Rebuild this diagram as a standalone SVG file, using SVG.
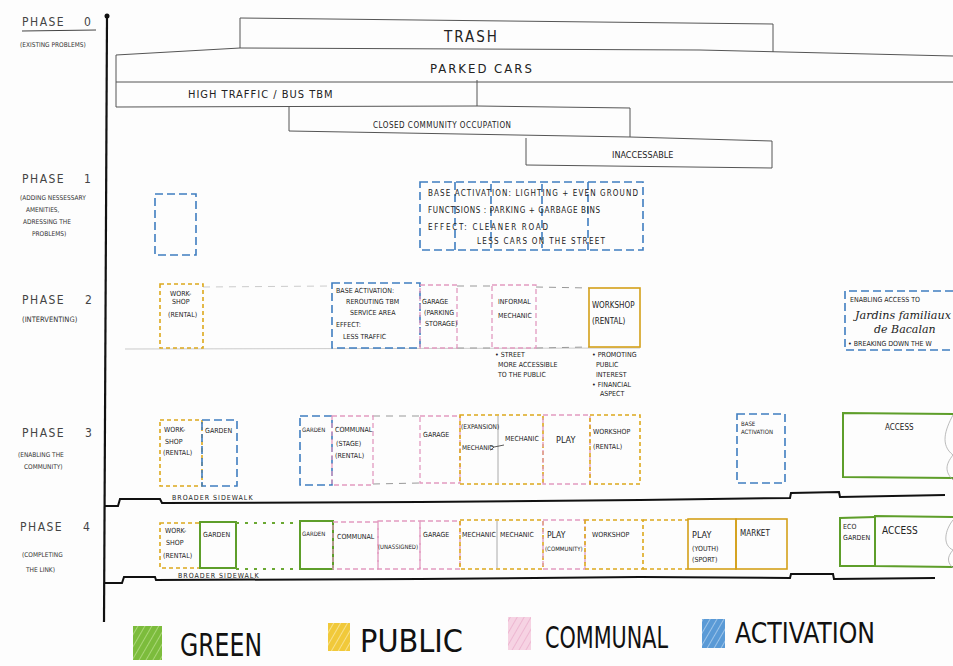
<svg xmlns="http://www.w3.org/2000/svg" width="953" height="666" viewBox="0 0 953 666">
<defs>
<style>
.t{font-family:"DejaVu Sans Condensed","DejaVu Sans",sans-serif;fill:#222;}
.ph{font-size:12px;letter-spacing:1.5px;fill:#444;}
.sub{font-size:6.5px;fill:#333;}
.s{font-size:7px;}
.m{font-size:8px;}
.bar{fill:none;stroke:#555;stroke-width:1;}
.blue{fill:none;stroke:#3f7dc0;stroke-width:1.6;stroke-dasharray:8 4;}
.yel{fill:none;stroke:#dca81c;stroke-width:1.6;stroke-dasharray:4 3;}
.yels{fill:none;stroke:#d4a01a;stroke-width:1.6;}
.pink{fill:none;stroke:#e29ac0;stroke-width:1.3;stroke-dasharray:5 3;}
.gray{fill:none;stroke:#aaa;stroke-width:1;}
.grayd{fill:none;stroke:#999;stroke-width:1;stroke-dasharray:7 6;}
.grn{fill:none;stroke:#5e9e2a;stroke-width:2;}
.grnd{fill:none;stroke:#6aa832;stroke-width:2;stroke-dasharray:3 6;}
.blk{fill:none;stroke:#111;stroke-width:2;}
.leg{font-family:"DejaVu Sans Condensed","DejaVu Sans",sans-serif;fill:#111;font-size:34px;}
</style>
<pattern id="hG" width="6" height="6" patternUnits="userSpaceOnUse" patternTransform="rotate(30)"><rect width="6" height="6" fill="#7cbc3c"/><line x1="0" y1="0" x2="0" y2="6" stroke="#b8e08a" stroke-width="1.5"/></pattern>
<pattern id="hY" width="6" height="6" patternUnits="userSpaceOnUse" patternTransform="rotate(30)"><rect width="6" height="6" fill="#f1c93a"/><line x1="0" y1="0" x2="0" y2="6" stroke="#fbe9a8" stroke-width="1.5"/></pattern>
<pattern id="hP" width="6" height="6" patternUnits="userSpaceOnUse" patternTransform="rotate(30)"><rect width="6" height="6" fill="#f6d3e3"/><line x1="0" y1="0" x2="0" y2="6" stroke="#e8a5c6" stroke-width="1.2"/></pattern>
<pattern id="hB" width="6" height="6" patternUnits="userSpaceOnUse" patternTransform="rotate(30)"><rect width="6" height="6" fill="#5a9ad6"/><line x1="0" y1="0" x2="0" y2="6" stroke="#b3d3f0" stroke-width="1.5"/></pattern>
<marker id="arr" markerWidth="8" markerHeight="8" refX="1" refY="4" orient="auto"><path d="M6,1 L1,4 L6,7" fill="none" stroke="#333" stroke-width="1"/></marker>
</defs>
<rect width="953" height="666" fill="#fdfdfd"/>

<g id="axis">
<line x1="107" y1="16" x2="104" y2="622" stroke="#111" stroke-width="2.2"/>
<circle cx="107" cy="16" r="2.5" fill="#111"/>
</g>

<g id="phase-labels">
<text class="t ph" x="22" y="26">PHASE</text><text class="t ph" x="84" y="26">0</text>
<line x1="22" y1="31" x2="96" y2="30" stroke="#444" stroke-width="1"/>
<text class="t sub" x="20" y="47">(EXISTING PROBLEMS)</text>
<text class="t ph" x="22" y="183">PHASE</text><text class="t ph" x="84" y="183">1</text>
<text class="t sub" x="20" y="200">(ADDING NESSESSARY</text>
<text class="t sub" x="26" y="212">AMENITIES,</text>
<text class="t sub" x="23" y="224">ADRESSING THE</text>
<text class="t sub" x="32" y="236">PROBLEMS)</text>
<text class="t ph" x="22" y="304">PHASE</text><text class="t ph" x="85" y="304">2</text>
<text class="t sub" x="22" y="322" style="font-size:7.5px">(INTERVENTING)</text>
<text class="t ph" x="22" y="437">PHASE</text><text class="t ph" x="85" y="437">3</text>
<text class="t sub" x="18" y="457">(ENABLING THE</text>
<text class="t sub" x="24" y="469">COMMUNITY)</text>
<text class="t ph" x="20" y="531">PHASE</text><text class="t ph" x="83" y="531">4</text>
<text class="t sub" x="22" y="557">(COMPLETING</text>
<text class="t sub" x="26" y="572">THE LINK)</text>
</g>

<g id="phase0">
<g id="trash"><path class="bar" d="M240,48 L240,18 L773,24 L773,52"/><text class="t" x="444" y="42" style="font-size:15px;letter-spacing:2px">TRASH</text></g>
<g id="parked-cars"><path class="bar" d="M953,56 L700,50 L240,48 L116,55 L116,82 L953,82"/><text class="t" x="430" y="73" style="font-size:13px;letter-spacing:2px">PARKED CARS</text></g>
<g id="high-traffic"><path class="bar" d="M477,80 L477,106 L116,107 L116,82"/><text class="t" x="188" y="98" style="font-size:11px;letter-spacing:1px">HIGH TRAFFIC / BUS TBM</text></g>
<g id="closed-community"><path class="bar" d="M289,107 L289,131 L630,137 L630,108 L477,106"/><text class="t" x="373" y="128" style="font-size:8px;letter-spacing:0.5px">CLOSED COMMUNITY  OCCUPATION</text></g>
<g id="inaccessable"><path class="bar" d="M526,138 L526,165 L772,168 L772,141 L630,137"/><text class="t" x="612" y="158" style="font-size:9px">INACCESSABLE</text></g>
</g>

<g id="phase1">
<g id="p1-empty"><rect class="blue" x="155" y="194" width="41" height="61"/></g>
<g id="p1-base-activation">
<rect class="blue" x="420" y="182" width="223" height="68"/>
<line class="blue" x1="455" y1="182" x2="455" y2="250"/>
<line class="blue" x1="491" y1="184" x2="491" y2="248"/>
<line class="blue" x1="542" y1="184" x2="542" y2="248"/>
<line class="blue" x1="588" y1="182" x2="588" y2="250"/>
<text class="t m" x="428" y="196" textLength="210" lengthAdjust="spacing">BASE  ACTIVATION:  LIGHTING + EVEN GROUND</text>
<text class="t m" x="428" y="213" textLength="172" lengthAdjust="spacing">FUNCTSIONS :  PARKING + GARBAGE BINS</text>
<text class="t m" x="428" y="230" textLength="120" lengthAdjust="spacing">EFFECT:  CLEANER ROAD</text>
<text class="t m" x="477" y="244" textLength="128" lengthAdjust="spacing">LESS CARS ON THE STREET</text>
</g>
</g>

<g id="phase2">
<line class="gray" x1="125" y1="349" x2="640" y2="348" stroke-opacity="0.6"/>
<line class="grayd" x1="203" y1="287" x2="332" y2="286" stroke-opacity="0.5"/>
<line class="grayd" x1="457" y1="286" x2="492" y2="286"/>
<line class="grayd" x1="536" y1="287" x2="589" y2="288"/>
<line class="grayd" x1="536" y1="348" x2="589" y2="347"/>
<line class="grayd" x1="457" y1="348" x2="492" y2="348"/>
<g id="p2-workshop"><rect class="yel" x="160" y="284" width="43" height="64"/>
<text class="t s" x="170" y="296">WORK-</text><text class="t s" x="172" y="304">SHOP</text><text class="t s" x="168" y="317">(RENTAL)</text></g>
<g id="p2-base-activation"><rect class="blue" x="332" y="283" width="88" height="65"/>
<text class="t s" x="336" y="293">BASE ACTIVATION:</text><text class="t s" x="346" y="304">REROUTING TBM</text><text class="t s" x="350" y="315">SERVICE AREA</text><text class="t s" x="336" y="327">EFFECT:</text><text class="t s" x="343" y="339">LESS TRAFFIC</text></g>
<g id="p2-garage"><rect class="pink" x="420" y="285" width="37" height="63"/>
<text class="t s" x="422" y="304">GARAGE</text><text class="t s" x="424" y="315">(PARKING</text><text class="t s" x="425" y="326">STORAGE)</text></g>
<g id="p2-informal-mechanic"><rect class="pink" x="492" y="285" width="44" height="63"/>
<text class="t s" x="498" y="304">INFORMAL</text><text class="t s" x="498" y="318">MECHANIC</text></g>
<g id="p2-workshop-rental"><rect class="yels" x="589" y="288" width="51" height="59"/>
<text class="t m" x="592" y="308">WORKSHOP</text><text class="t m" x="592" y="324">(RENTAL)</text></g>
<g id="p2-note-street"><text class="t s" x="495" y="357">• STREET</text><text class="t s" x="498" y="367">MORE ACCESSIBLE</text><text class="t s" x="498" y="377">TO THE PUBLIC</text></g>
<g id="p2-note-workshop"><text class="t s" x="592" y="357">• PROMOTING</text><text class="t s" x="596" y="367">PUBLIC</text><text class="t s" x="596" y="377">INTEREST</text><text class="t s" x="592" y="387">• FINANCIAL</text><text class="t s" x="600" y="396">ASPECT</text></g>
<g id="p2-jardins"><path class="blue" d="M953,291 L845,291 L845,350 L953,350"/>
<text class="t s" x="850" y="302">ENABLING ACCESS TO</text>
<text x="855" y="319" style="font-family:'DejaVu Serif',serif;font-style:italic;font-size:11px;fill:#222" textLength="96" lengthAdjust="spacingAndGlyphs">Jardins familiaux</text>
<text x="874" y="333" style="font-family:'DejaVu Serif',serif;font-style:italic;font-size:11px;fill:#222">de Bacalan</text>
<text class="t s" x="848" y="346">• BREAKING DOWN THE W</text></g>
</g>

<g id="phase3">
<g id="p3-workshop"><rect class="yel" x="160" y="420" width="42" height="66"/>
<text class="t s" x="164" y="432">WORK-</text><text class="t s" x="165" y="444">SHOP</text><text class="t s" x="163" y="455">(RENTAL)</text></g>
<g id="p3-garden-a"><rect class="blue" x="202" y="420" width="35" height="66"/><text class="t s" x="205" y="433">GARDEN</text></g>
<line class="grayd" x1="373" y1="416" x2="420" y2="416"/>
<line class="grayd" x1="373" y1="484" x2="420" y2="483"/>
<g id="p3-garden-b"><rect class="blue" x="300" y="416" width="32" height="69"/><text class="t s" x="302" y="432" style="font-size:6px">GARDEN</text></g>
<g id="p3-communal"><rect class="pink" x="332" y="416" width="41" height="69"/>
<text class="t s" x="335" y="432">COMMUNAL</text><text class="t s" x="336" y="446">(STAGE)</text><text class="t s" x="335" y="458">(RENTAL)</text></g>
<g id="p3-garage"><rect class="pink" x="420" y="416" width="40" height="67"/><text class="t s" x="423" y="437">GARAGE</text></g>
<g id="p3-mechanic"><rect class="yel" x="460" y="415" width="83" height="69"/>
<line class="gray" x1="498" y1="416" x2="498" y2="483"/>
<text class="t s" x="461" y="429" style="font-size:6.5px">(EXPANSION)</text><text class="t s" x="462" y="450" style="font-size:6.5px">MECHANIC</text>
<text class="t s" x="505" y="441">MECHANIC</text></g>
<g id="p3-play"><rect class="pink" x="543" y="415" width="47" height="69"/><text class="t" x="556" y="443" style="font-size:9px">PLAY</text></g>
<g id="p3-workshop-rental"><rect class="yel" x="590" y="415" width="50" height="69"/>
<text class="t s" x="593" y="434">WORKSHOP</text><text class="t s" x="593" y="449">(RENTAL)</text></g>
<g id="p3-base-activation"><rect class="blue" x="737" y="414" width="48" height="69"/>
<text class="t s" x="741" y="426" style="font-size:6px">BASE</text><text class="t s" x="741" y="434" style="font-size:6px">ACTIVATION</text></g>
<g id="p3-access"><path class="grn" d="M953,414 L843,413 L843,477 L953,478" stroke="#7cbf2a"/>
<path d="M953,415 C945,430 940,445 953,455 C945,465 945,472 953,480" fill="none" stroke="#aaa" stroke-width="0.8"/>
<text class="t m" x="885" y="430">ACCESS</text></g>
<g id="p3-sidewalk">
<path class="blk" d="M104,506 L118,506 L120,499 L160,499 L162,503 L420,502 L640,500 L790,498 L791,493 L839,492 L840,497 L945,495"/>
<text class="t s" x="172" y="500" style="letter-spacing:1px">BROADER SIDEWALK</text></g>
</g>

<g id="phase4">
<g id="p4-workshop"><rect class="yel" x="160" y="523" width="40" height="45"/>
<text class="t s" x="165" y="533">WORK-</text><text class="t s" x="166" y="545">SHOP</text><text class="t s" x="163" y="558">(RENTAL)</text></g>
<g id="p4-garden-a"><rect class="grn" x="200" y="522" width="36" height="46"/><text class="t s" x="203" y="537">GARDEN</text></g>
<line class="grnd" x1="236" y1="523" x2="300" y2="523"/>
<line class="grnd" x1="236" y1="569" x2="300" y2="569"/>
<g id="p4-garden-b"><rect class="grn" x="300" y="521" width="33" height="48"/><text class="t s" x="302" y="536" style="font-size:6px">GARDEN</text></g>
<g id="p4-communal"><rect class="pink" x="333" y="522" width="45" height="47"/><text class="t s" x="337" y="539">COMMUNAL</text></g>
<g id="p4-unassigned"><rect class="pink" x="378" y="521" width="42" height="48"/><text class="t s" x="378" y="549" style="font-size:6px">(UNASSIGNED)</text></g>
<g id="p4-garage"><rect class="pink" x="420" y="521" width="40" height="48"/><text class="t s" x="423" y="537">GARAGE</text></g>
<g id="p4-mechanic"><rect class="yel" x="460" y="520" width="83" height="49"/>
<line class="gray" x1="497" y1="521" x2="497" y2="568"/>
<text class="t s" x="462" y="537">MECHANIC</text><text class="t s" x="500" y="537">MECHANIC</text></g>
<g id="p4-play"><rect class="pink" x="543" y="520" width="42" height="49"/>
<text class="t" x="547" y="538" style="font-size:8.5px">PLAY</text><text class="t s" x="545" y="551" style="font-size:6px">(COMMUNITY)</text></g>
<g id="p4-workshop-b"><rect class="yel" x="585" y="520" width="58" height="49"/><text class="t s" x="592" y="537">WORKSHOP</text></g>
<path class="yel" d="M643,520 L688,520 M643,569 L688,569" stroke="#a8b03a"/>
<g id="p4-play-youth"><rect class="yels" x="688" y="519" width="48" height="50"/>
<text class="t" x="692" y="538" style="font-size:9px">PLAY</text><text class="t s" x="692" y="551">(YOUTH)</text><text class="t s" x="692" y="562">(SPORT)</text></g>
<g id="p4-market"><rect class="yels" x="736" y="519" width="51" height="50"/><text class="t m" x="740" y="536">MARKET</text></g>
<g id="p4-eco-garden"><path class="grn" d="M875,517 L840,518 L840,566 L875,566" stroke="#7cbf2a"/><text class="t s" x="843" y="529">ECO</text><text class="t s" x="843" y="540">GARDEN</text></g>
<g id="p4-access"><path class="grn" d="M953,517 L875,516 L875,566 L953,567 M875,516 L875,566" stroke="#7cbf2a"/>
<path d="M953,520 C945,530 942,545 953,550 C946,558 948,563 953,568" fill="none" stroke="#aaa" stroke-width="0.8"/>
<text class="t m" x="882" y="534" style="font-size:10px">ACCESS</text></g>
<g id="p4-sidewalk">
<path class="blk" d="M104,583 L122,583 L124,577 L155,577 L156,580 L420,579 L640,577 L790,578 L791,574 L833,574 L834,579 L935,578"/>
<text class="t s" x="178" y="578" style="letter-spacing:1px">BROADER    SIDEWALK</text></g>
</g>

<g id="connectors">
<line x1="504" y1="445" x2="494" y2="447" stroke="#333" stroke-width="0.8" marker-end="url(#arr)"/>
</g>

<g id="legend">
<g id="legend-green"><rect x="133" y="626" width="29" height="34" fill="url(#hG)"/><text class="leg" x="180" y="656" textLength="82" lengthAdjust="spacingAndGlyphs" style="font-size:32px">GREEN</text></g>
<g id="legend-public"><rect x="328" y="623" width="22" height="28" fill="url(#hY)"/><text class="leg" x="360" y="652" textLength="103" lengthAdjust="spacingAndGlyphs" style="font-size:32px">PUBLIC</text></g>
<g id="legend-communal"><rect x="508" y="617" width="23" height="33" fill="url(#hP)"/><text class="leg" x="545" y="648" textLength="123" lengthAdjust="spacingAndGlyphs" style="font-size:30px">COMMUNAL</text></g>
<g id="legend-activation"><rect x="702" y="619" width="23" height="29" fill="url(#hB)"/><text class="leg" x="735" y="643" textLength="140" lengthAdjust="spacingAndGlyphs" style="font-size:29px">ACTIVATION</text></g>
</g>
</svg>
